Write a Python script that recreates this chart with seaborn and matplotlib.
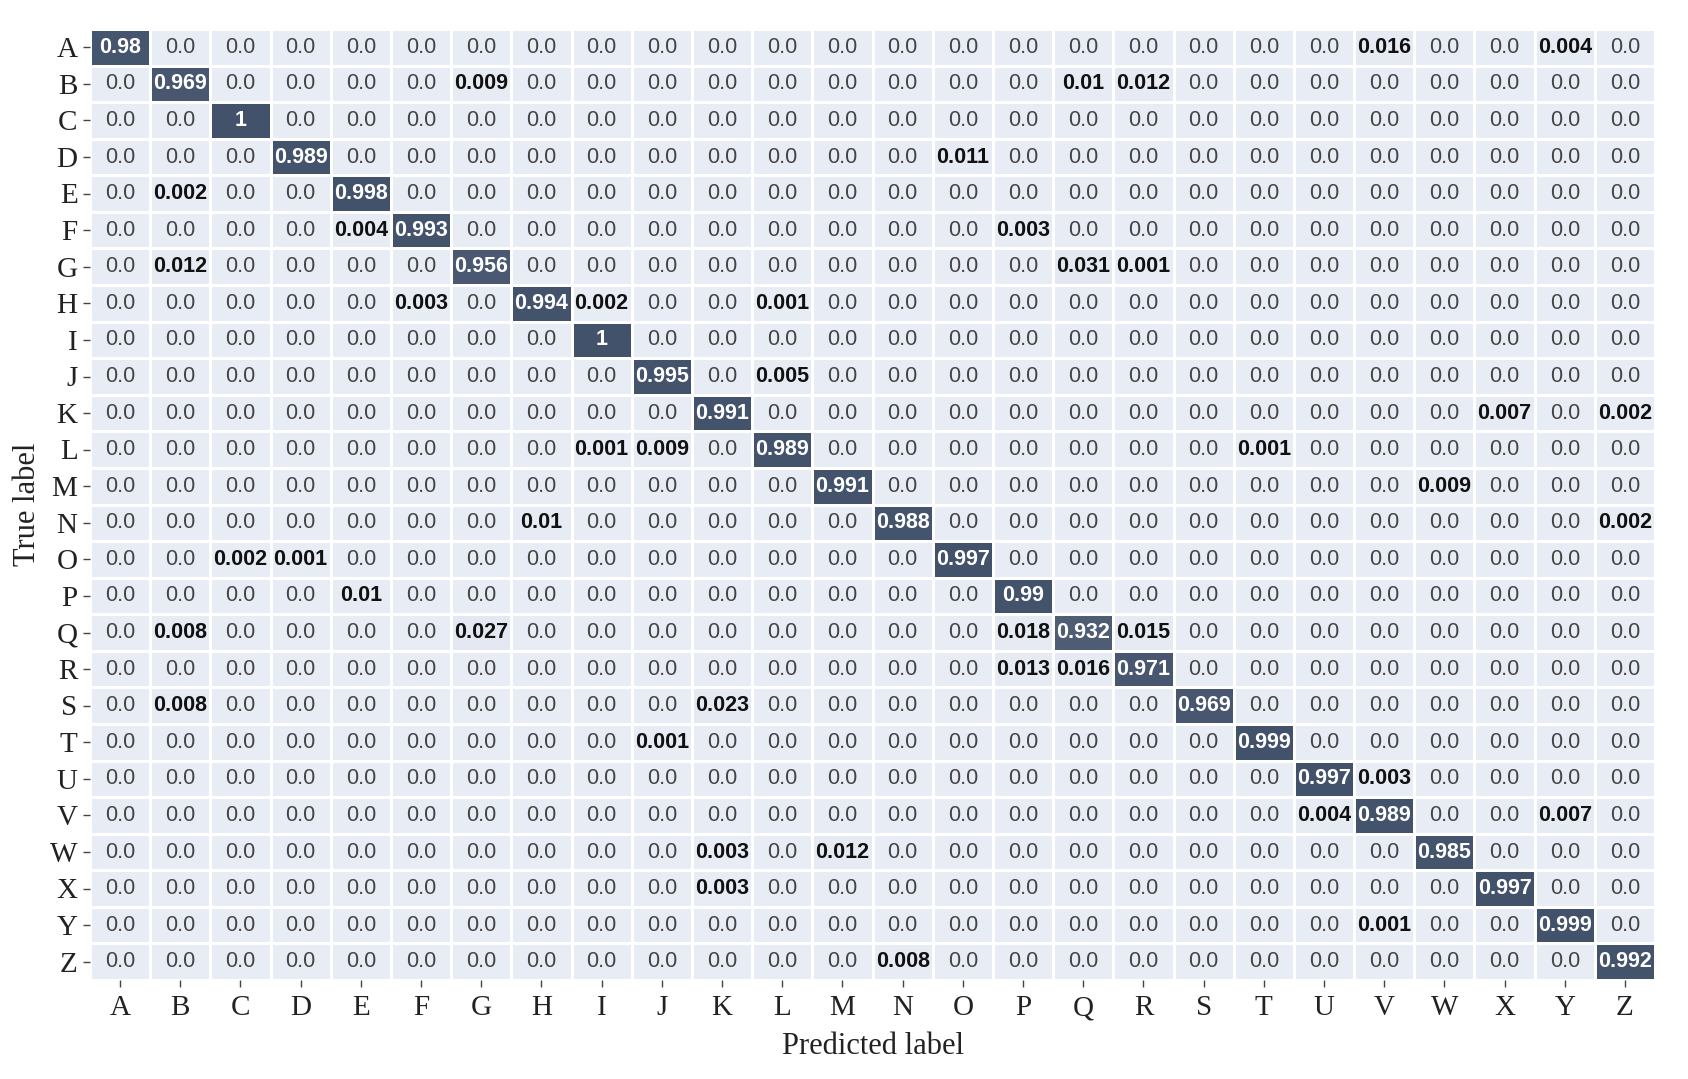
import numpy as np
import pandas as pd
import matplotlib
matplotlib.use("Agg")
import matplotlib.pyplot as plt
import matplotlib.transforms as mtransforms
import seaborn as sns
from matplotlib.colors import LinearSegmentedColormap

labels = list("ABCDEFGHIJKLMNOPQRSTUVWXYZ")

# diagonal (correct) rates, one per true label
diag_values = [0.98, 0.969, 1, 0.989, 0.998, 0.993, 0.956, 0.994, 1, 0.995,
               0.991, 0.989, 0.991, 0.988, 0.997, 0.99, 0.932, 0.971, 0.969,
               0.999, 0.997, 0.989, 0.985, 0.997, 0.999, 0.992]

# off-diagonal confusions: (true, predicted, rate)
confusions = [
    ("A", "V", 0.016), ("A", "Y", 0.004),
    ("B", "G", 0.009), ("B", "Q", 0.01), ("B", "R", 0.012),
    ("D", "O", 0.011),
    ("E", "B", 0.002),
    ("F", "E", 0.004), ("F", "P", 0.003),
    ("G", "B", 0.012), ("G", "Q", 0.031), ("G", "R", 0.001),
    ("H", "F", 0.003), ("H", "I", 0.002), ("H", "L", 0.001),
    ("J", "L", 0.005),
    ("K", "X", 0.007), ("K", "Z", 0.002),
    ("L", "I", 0.001), ("L", "J", 0.009), ("L", "T", 0.001),
    ("M", "W", 0.009),
    ("N", "H", 0.01), ("N", "Z", 0.002),
    ("O", "C", 0.002), ("O", "D", 0.001),
    ("P", "E", 0.01),
    ("Q", "B", 0.008), ("Q", "G", 0.027), ("Q", "P", 0.018), ("Q", "R", 0.015),
    ("R", "P", 0.013), ("R", "Q", 0.016),
    ("S", "B", 0.008), ("S", "K", 0.023),
    ("T", "J", 0.001),
    ("U", "V", 0.003),
    ("V", "U", 0.004), ("V", "Y", 0.007),
    ("W", "K", 0.003), ("W", "M", 0.012),
    ("X", "K", 0.003),
    ("Y", "V", 0.001),
    ("Z", "N", 0.008),
]

cm = pd.DataFrame(0.0, index=labels, columns=labels)
for lab, v in zip(labels, diag_values):
    cm.loc[lab, lab] = v
for t, p, v in confusions:
    cm.loc[t, p] = v


def fmt(v):
    return "0.0" if v == 0 else f"{v:g}"


annot = cm.map(fmt).values

cmap = LinearSegmentedColormap.from_list("slate", ["#e8ecf5", "#43526b"])

fig = plt.figure(figsize=(16.88, 10.79), dpi=100)
ax = fig.add_axes([0.0533, 0.0917, 0.9272, 0.8814])

sns.heatmap(
    cm,
    annot=annot,
    fmt="",
    cmap=cmap,
    vmin=0,
    vmax=1,
    cbar=False,
    linewidths=0.8,
    linecolor="white",
    annot_kws={"fontsize": 15.5, "family": "Liberation Sans"},
    ax=ax,
)

# style the annotations: white on diagonal, bold for nonzero confusions
n = len(labels)
for k, txt in enumerate(ax.texts):
    i, j = divmod(k, n)
    v = cm.values[i, j]
    if i == j:
        txt.set_color("white")
        txt.set_fontweight("bold")
    elif v > 0:
        txt.set_color("#111111")
        txt.set_fontweight("bold")
    else:
        txt.set_color("#444444")

ax.set_xlabel("Predicted label", fontsize=22, family="Liberation Serif",
              color="#222222", labelpad=8)
ax.set_ylabel("True label", fontsize=22, family="Liberation Serif",
              color="#222222", labelpad=6)
ax.tick_params(axis="x", length=5, width=1, color="#444444", pad=6)
ax.tick_params(axis="y", length=5, width=1, color="#444444", pad=4)
for lbl in ax.get_xticklabels() + ax.get_yticklabels():
    lbl.set_family("Liberation Serif")
    lbl.set_fontsize(21)
    lbl.set_color("#222222")
plt.setp(ax.get_yticklabels(), rotation=0)
plt.setp(ax.get_xticklabels(), rotation=0)

# y tick labels sit a little below the row centre in the reference
offset = mtransforms.ScaledTranslation(0, -2 / 72, fig.dpi_scale_trans)
for lbl in ax.get_yticklabels():
    lbl.set_transform(lbl.get_transform() + offset)

fig.savefig("out.png", dpi=100)
